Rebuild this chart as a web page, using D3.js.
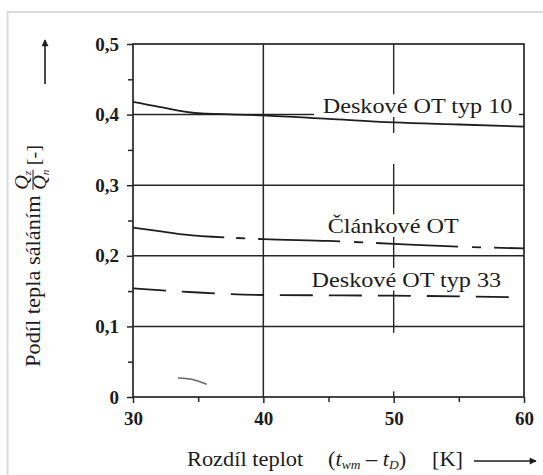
<!DOCTYPE html>
<html><head><meta charset="utf-8">
<script src="https://cdn.jsdelivr.net/npm/d3@7"></script>
<style>
html,body{margin:0;padding:0;background:#fff;}
svg{display:block;}
</style></head>
<body>
<script>
// ---- data ----
const xTicks = [30, 40, 50, 60];
const xMinorTicks = [35, 45, 55];
const yTicks = [0, 0.1, 0.2, 0.3, 0.4, 0.5];
const yTickLabels = ["0", "0,1", "0,2", "0,3", "0,4", "0,5"];
const yMinorTicks = [0.05, 0.15, 0.25, 0.35, 0.45];

const deskove10X = [30, 32, 35, 40, 45, 50, 55, 60];
const deskove10Y = [0.418, 0.411, 0.402, 0.399, 0.394, 0.389, 0.386, 0.383];

const clankoveSolidX = [30, 32, 34, 37];
const clankoveSolidY = [0.240, 0.235, 0.230, 0.226];
const clankoveDashX = [37, 40, 45, 50, 55, 60];
const clankoveDashY = [0.226, 0.2235, 0.221, 0.217, 0.213, 0.2105];

const deskove33X = [30, 35, 40, 45, 50, 55, 60];
const deskove33Y = [0.154, 0.148, 0.1445, 0.144, 0.1435, 0.1425, 0.141];

const strayX = [33.45, 34.5, 35.65];
const strayY = [0.027, 0.025, 0.018];

const seriesLabels = ["Deskové OT typ 10", "Článkové OT", "Deskové OT typ 33"];
const yTitle = "Podíl tepla sáláním";
const xTitle = "Rozdíl teplot";

// ---- layout ----
const W = 543, H = 475;
const FONT = '"Liberation Serif"';
const TXT = "#1c1c1c";
const svg = d3.select("body").append("svg").attr("width", W).attr("height", H);

// outer light frame
svg.append("rect").attr("x", 7.5).attr("y", 12).attr("width", 560).attr("height", 500)
  .attr("fill", "none").attr("stroke", "#dcdcdc").attr("stroke-width", 2);

const x = d3.scaleLinear().domain([30, 60]).range([133, 524]);
const y = d3.scaleLinear().domain([0, 0.5]).range([397, 44]);
const ink = "#262626";

const g = svg.append("g");

// horizontal grid lines
g.selectAll("line.hg").data(yTicks.slice(1, 5)).join("line")
  .attr("x1", x(30)).attr("x2", x(60)).attr("y1", d => y(d)).attr("y2", d => y(d))
  .attr("stroke", ink).attr("stroke-width", 1.5);
// vertical grid at 40
g.append("line").attr("x1", x(40)).attr("x2", x(40)).attr("y1", y(0.5)).attr("y2", y(0))
  .attr("stroke", ink).attr("stroke-width", 1.5);
// broken vertical at 50
const x50Segments = [[0.5, 0.374], [0.33, 0.091], [0.008, 0]];
g.selectAll("line.v50").data(x50Segments).join("line")
  .attr("x1", x(50)).attr("x2", x(50)).attr("y1", d => y(d[0])).attr("y2", d => y(d[1]))
  .attr("stroke", ink).attr("stroke-width", 1.4);

// frame
g.append("rect").attr("x", x(30)).attr("y", y(0.5)).attr("width", x(60) - x(30)).attr("height", y(0) - y(0.5))
  .attr("fill", "none").attr("stroke", ink).attr("stroke-width", 1.7);

// axes
const yAxis = d3.axisLeft(y).tickValues(yTicks).tickFormat((d, i) => yTickLabels[i]).tickSize(6).tickPadding(8);
const ya = g.append("g").attr("transform", `translate(${x(30)},0)`).call(yAxis);
const yaMinor = g.append("g").attr("transform", `translate(${x(30)},0)`)
  .call(d3.axisLeft(y).tickValues(yMinorTicks).tickFormat("").tickSize(5));
const xAxis = d3.axisBottom(x).tickValues(xTicks).tickSize(6).tickPadding(9);
const xa = g.append("g").attr("transform", `translate(0,${y(0)})`).call(xAxis);
const xaMinor = g.append("g").attr("transform", `translate(0,${y(0)})`)
  .call(d3.axisBottom(x).tickValues(xMinorTicks).tickFormat("").tickSize(5));
[ya, yaMinor, xa, xaMinor].forEach(a => {
  a.attr("font-family", null).attr("font-size", null);
  a.select(".domain").remove();
  a.selectAll(".tick line").attr("stroke", ink).attr("stroke-width", 1.5);
  a.selectAll("text").style("font-family", FONT).style("font-weight", "bold")
    .style("font-size", "19px").attr("fill", TXT);
});

function txt(sel, size) {
  return sel.append("text").style("font-family", FONT).style("font-size", size + "px").attr("fill", TXT);
}

// curve labels with white boxes
function curveLabel(label, lx, ly) {
  const lg = g.append("g").attr("transform", `translate(${x(lx)},${y(ly)}) scale(1.1,1)`);
  const t = txt(lg, 22).text(label);
  const bb = t.node().getBBox();
  lg.insert("rect", "text").attr("x", bb.x - 8).attr("y", bb.y + 1).attr("width", bb.width + 14)
    .attr("height", bb.height - 2).attr("fill", "#fff");
}
curveLabel(seriesLabels[0], 44.56, 0.402);
curveLabel(seriesLabels[1], 44.94, 0.232);
curveLabel(seriesLabels[2], 43.7, 0.156);

// curves
const line = d3.line().x(d => x(d[0])).y(d => y(d[1])).curve(d3.curveMonotoneX);
const zip = (a, b) => a.map((v, i) => [v, b[i]]);
g.append("path").attr("d", line(zip(deskove10X, deskove10Y)))
  .attr("fill", "none").attr("stroke", "#1e1e1e").attr("stroke-width", 1.8);
g.append("path").attr("d", line(zip(clankoveSolidX, clankoveSolidY)))
  .attr("fill", "none").attr("stroke", "#1e1e1e").attr("stroke-width", 1.8);
g.append("path").attr("d", line(zip(clankoveDashX, clankoveDashY)))
  .attr("fill", "none").attr("stroke", "#1e1e1e").attr("stroke-width", 1.8)
  .attr("stroke-dasharray", "9,13,82,14").attr("stroke-dashoffset", 106);
g.append("path").attr("d", line(zip(deskove33X, deskove33Y)))
  .attr("fill", "none").attr("stroke", "#1e1e1e").attr("stroke-width", 1.8)
  .attr("stroke-dasharray", "33,16");
g.append("path").attr("d", line(zip(strayX, strayY)))
  .attr("fill", "none").attr("stroke", "#666").attr("stroke-width", 1.5);

// arrow marker
const defs = svg.append("defs");
defs.append("marker").attr("id", "ah").attr("viewBox", "0 0 10 10").attr("refX", 9).attr("refY", 5)
  .attr("markerWidth", 10).attr("markerHeight", 7).attr("markerUnits", "userSpaceOnUse").attr("orient", "auto")
  .append("path").attr("d", "M0,0 L10,5 L0,10 Z").attr("fill", TXT);

// y title (rotated)
const yt = svg.append("g").attr("transform", "translate(40,367) rotate(-90) scale(1.12,1)");
const yMain = txt(yt, 20).text(yTitle);
let cx = yMain.node().getComputedTextLength() + 5;
const num = txt(yt, 18).attr("x", cx).attr("y", -12).style("font-style", "italic");
num.append("tspan").text("Q");
num.append("tspan").style("font-size", "10px").attr("dy", 3).text("z");
const den = txt(yt, 18).attr("x", cx).attr("y", 6).style("font-style", "italic");
den.append("tspan").text("Q");
den.append("tspan").style("font-size", "10px").attr("dy", 3).text("n");
const fw = Math.max(num.node().getComputedTextLength(), den.node().getComputedTextLength());
yt.append("line").attr("x1", cx).attr("x2", cx + fw).attr("y1", -7).attr("y2", -7)
  .attr("stroke", TXT).attr("stroke-width", 1);
cx += fw + 4;
txt(yt, 18).attr("x", cx).text("[-]");
// up arrow
svg.append("line").attr("x1", 45).attr("x2", 45).attr("y1", 84).attr("y2", 40)
  .attr("stroke", TXT).attr("stroke-width", 1.6).attr("marker-end", "url(#ah)");

// x title
function scaledText(px, py) {
  return svg.append("g").attr("transform", `translate(${px},${py}) scale(1.12,1)`);
}
txt(scaledText(187, 466), 20).text(xTitle);
const paren = txt(scaledText(328, 466), 20);
paren.append("tspan").text("(");
paren.append("tspan").style("font-style", "italic").text("t");
paren.append("tspan").style("font-style", "italic").style("font-size", "12px").attr("dy", 3).text("wm");
paren.append("tspan").attr("dy", -3).text(" – ");
paren.append("tspan").style("font-style", "italic").text("t");
paren.append("tspan").style("font-style", "italic").style("font-size", "12px").attr("dy", 3).text("D");
paren.append("tspan").attr("dy", -3).text(")");
txt(scaledText(432, 466), 20).text("[K]");
svg.append("line").attr("x1", 474).attr("x2", 536).attr("y1", 461).attr("y2", 461)
  .attr("stroke", TXT).attr("stroke-width", 1.6).attr("marker-end", "url(#ah)");
</script>
</body></html>
